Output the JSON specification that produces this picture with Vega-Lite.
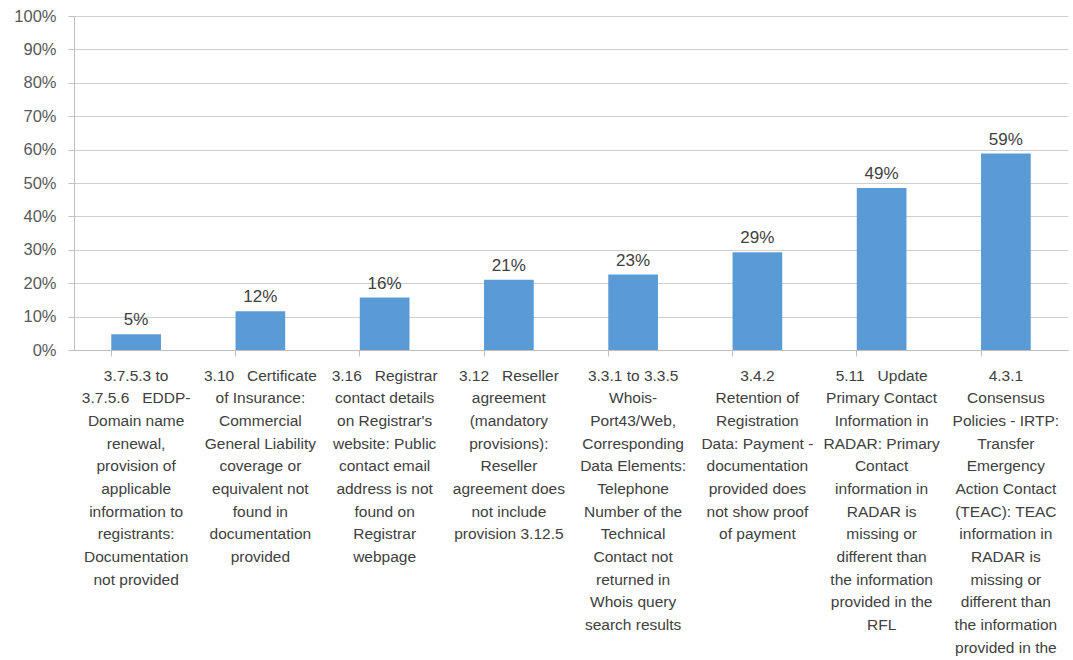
{
  "$schema": "https://vega.github.io/schema/vega-lite/v6.json",
  "width": 994,
  "height": 334,
  "autosize": {"type": "none"},
  "padding": {"left": 74, "top": 16, "right": 5, "bottom": 310},
  "background": "white",
  "config": {
    "view": {"stroke": null},
    "font": "Liberation Sans"
  },
  "data": {
    "values": [
      {"category": "3.7.5.3 to|3.7.5.6\u00a0\u00a0 EDDP-|Domain name|renewal,|provision of|applicable|information to|registrants:|Documentation|not provided", "value": 0.047},
      {"category": "3.10\u00a0\u00a0 Certificate|of Insurance:|Commercial|General Liability|coverage or|equivalent not|found in|documentation|provided", "value": 0.116},
      {"category": "3.16\u00a0\u00a0 Registrar|contact details|on Registrar's|website: Public|contact email|address is not|found on|Registrar|webpage", "value": 0.157},
      {"category": "3.12\u00a0\u00a0 Reseller|agreement|(mandatory|provisions):|Reseller|agreement does|not include|provision 3.12.5", "value": 0.21},
      {"category": "3.3.1 to 3.3.5|Whois-|Port43/Web,|Corresponding|Data Elements:|Telephone|Number of the|Technical|Contact not|returned in|Whois query|search results", "value": 0.226},
      {"category": "3.4.2|Retention of|Registration|Data: Payment -|documentation|provided does|not show proof|of payment", "value": 0.293},
      {"category": "5.11\u00a0\u00a0 Update|Primary Contact|Information in|RADAR: Primary|Contact|information in|RADAR is|missing or|different than|the information|provided in the|RFL", "value": 0.485},
      {"category": "4.3.1|Consensus|Policies - IRTP:|Transfer|Emergency|Action Contact|(TEAC): TEAC|information in|RADAR is|missing or|different than|the information|provided in the|RFL", "value": 0.588}
    ]
  },
  "encoding": {
    "x": {
      "field": "category",
      "type": "nominal",
      "sort": null,
      "title": null,
      "scale": {"paddingInner": 0.6, "paddingOuter": 0.3},
      "axis": {
        "labelExpr": "split(datum.label, '|')",
        "labelAngle": 0,
        "labelAlign": "center",
        "labelBaseline": "top",
        "labelLineHeight": 22.7,
        "labelFontSize": 15.5,
        "labelColor": "#404040",
        "labelPadding": 12,
        "labelLimit": 0,
        "labelOverlap": false,
        "bandPosition": 0,
        "tickSize": 6,
        "tickColor": "#BFBFBF",
        "domainColor": "#BFBFBF",
        "grid": false
      }
    },
    "y": {
      "field": "value",
      "type": "quantitative",
      "title": null,
      "scale": {"domain": [0, 1], "nice": false},
      "axis": {
        "values": [0, 0.1, 0.2, 0.3, 0.4, 0.5, 0.6, 0.7, 0.8, 0.9, 1],
        "format": ".0%",
        "labelFontSize": 16.5,
        "labelColor": "#595959",
        "labelPadding": 12,
        "tickSize": 6,
        "tickColor": "#BFBFBF",
        "domainColor": "#BFBFBF",
        "gridColor": "#CFCFCF"
      }
    }
  },
  "layer": [
    {"mark": {"type": "bar", "color": "#5B9BD5"}},
    {
      "mark": {"type": "text", "baseline": "bottom", "dy": -5, "fontSize": 17, "color": "#404040"},
      "encoding": {"text": {"field": "value", "type": "quantitative", "format": ".0%"}}
    }
  ]
}
